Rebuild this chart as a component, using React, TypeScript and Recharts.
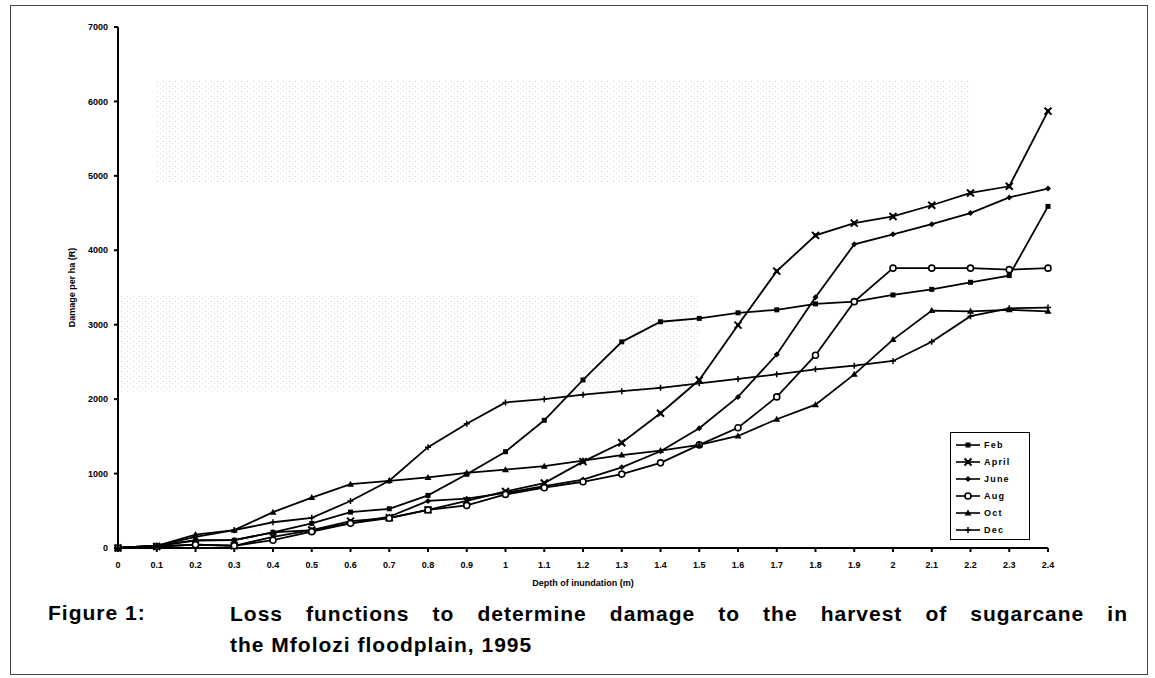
import React from 'react';
import {
  LineChart, Line, XAxis, YAxis, ReferenceArea
} from 'recharts';

const depths = ['0', '0.1', '0.2', '0.3', '0.4', '0.5', '0.6', '0.7', '0.8', '0.9', '1', '1.1', '1.2',
  '1.3', '1.4', '1.5', '1.6', '1.7', '1.8', '1.9', '2', '2.1', '2.2', '2.3', '2.4'];

const feb = [0, 30, 100, 105, 211, 330, 482, 527, 707, 990, 1294, 1716, 2258, 2770, 3040, 3085, 3160, 3200, 3280, 3310, 3400, 3475, 3570, 3660, 4590];
const april = [0, 20, 45, 30, 150, 241, 361, 406, 512, 632, 760, 873, 1160, 1415, 1810, 2257, 2995, 3720, 4200, 4365, 4455, 4605, 4770, 4860, 5870];
const june = [0, 30, 105, 105, 211, 241, 331, 420, 632, 662, 740, 830, 920, 1084, 1300, 1610, 2030, 2600, 3370, 4080, 4215, 4350, 4500, 4710, 4830];
const aug = [0, 20, 45, 30, 105, 220, 331, 400, 512, 572, 720, 810, 890, 993, 1144, 1385, 1615, 2030, 2590, 3310, 3760, 3760, 3760, 3740, 3760];
const oct = [0, 30, 180, 240, 482, 677, 858, 903, 948, 1010, 1053, 1100, 1174, 1249, 1309, 1385, 1505, 1730, 1926, 2333, 2800, 3190, 3180, 3200, 3180];
const dec = [0, 30, 150, 240, 346, 406, 632, 903, 1355, 1670, 1956, 2000, 2060, 2107, 2152, 2212, 2272, 2333, 2400, 2450, 2513, 2770, 3115, 3220, 3230];

const yTicks = [0, 1000, 2000, 3000, 4000, 5000, 6000, 7000];

const data = depths.map((d, i) => ({
  depth: d, Feb: feb[i], April: april[i], June: june[i], Aug: aug[i], Oct: oct[i], Dec: dec[i],
}));

const FONT = '"Liberation Sans", Arial, sans-serif';

// marker shapes
const SquareDot = ({ cx, cy }: any) => <rect x={cx - 2.5} y={cy - 2.5} width={5} height={5} fill="#000" />;
const XDot = ({ cx, cy }: any) => (
  <g>
    <path d={`M${cx - 3.5} ${cy - 3.5}L${cx + 3.5} ${cy + 3.5}M${cx - 3.5} ${cy + 3.5}L${cx + 3.5} ${cy - 3.5}`} stroke="#000" strokeWidth={2} />
    <rect x={cx - 2} y={cy - 2} width={4} height={4} fill="#000" />
  </g>
);
const DiamondDot = ({ cx, cy }: any) => (
  <polygon points={`${cx},${cy - 3} ${cx + 3},${cy} ${cx},${cy + 3} ${cx - 3},${cy}`} fill="#000" />
);
const OpenDot = ({ cx, cy }: any) => <circle cx={cx} cy={cy} r={3} fill="#fff" stroke="#000" strokeWidth={1.6} />;
const TriDot = ({ cx, cy }: any) => (
  <polygon points={`${cx},${cy - 3.5} ${cx + 3.5},${cy + 2.5} ${cx - 3.5},${cy + 2.5}`} fill="#000" />
);
const PlusDot = ({ cx, cy }: any) => (
  <path d={`M${cx - 3} ${cy}L${cx + 3} ${cy}M${cx} ${cy - 3}L${cx} ${cy + 3}`} stroke="#000" strokeWidth={1.5} />
);

const SERIES = [
  { key: 'Feb', Dot: SquareDot },
  { key: 'April', Dot: XDot },
  { key: 'June', Dot: DiamondDot },
  { key: 'Aug', Dot: OpenDot },
  { key: 'Oct', Dot: TriDot },
  { key: 'Dec', Dot: PlusDot },
];

const tickStyle = { fill: '#000', fontSize: 9, fontWeight: 'bold' as const, fontFamily: FONT };

const LegendBox = () => (
  <div style={{
    position: 'absolute', left: 950, top: 432, width: 80, height: 108, boxSizing: 'border-box',
    border: '1.5px solid #000', background: '#fff', padding: '3px 0 0 3px',
  }}>
    {SERIES.map(({ key, Dot }) => (
      <div key={key} style={{ display: 'flex', alignItems: 'center', height: 17 }}>
        <svg width={28} height={10}>
          <line x1={2} y1={5} x2={26} y2={5} stroke="#000" strokeWidth={1.6} />
          <Dot cx={14} cy={5} />
        </svg>
        <span style={{ fontFamily: FONT, fontSize: 9, fontWeight: 'bold', letterSpacing: 1.2, marginLeft: 2 }}>{key}</span>
      </div>
    ))}
  </div>
);

export default function App() {
  return (
    <div style={{ position: 'absolute', left: 0, top: 0, width: 1155, height: 678, background: '#fff', fontFamily: FONT }}>
      <div style={{ position: 'absolute', left: 10, top: 5, width: 1138, height: 670, border: '1px solid #444', boxSizing: 'border-box' }} />
      <div style={{ position: 'absolute', left: 0, top: 0 }}>
        <LineChart width={1155} height={678} data={data} margin={{ top: 27, right: 107, left: 68, bottom: 100 }}>
          <defs>
            <pattern id="speck" width="6" height="5" patternUnits="userSpaceOnUse">
              <rect x="1" y="1" width="1" height="1" fill="#999" />
              <rect x="4" y="3" width="1" height="1" fill="#bbb" />
            </pattern>
          </defs>
          <ReferenceArea x1="0.1" x2="2.2" y1={4900} y2={6300} fill="url(#speck)" fillOpacity={0.45} stroke="none" />
          <ReferenceArea x1="0" x2="1.5" y1={2100} y2={3400} fill="url(#speck)" fillOpacity={0.45} stroke="none" />
          <XAxis
            dataKey="depth"
            height={30}
            interval={0}
            tick={tickStyle}
            tickSize={4}
            tickMargin={10}
            stroke="#000"
            strokeWidth={2}
            label={{ value: 'Depth of inundation (m)', position: 'bottom', offset: 2, style: { ...tickStyle } }}
          />
          <XAxis xAxisId="top" dataKey="depth" orientation="top" height={0} tick={false} tickLine={false} stroke="#000" strokeWidth={1.5} />
          <YAxis
            width={50}
            domain={[0, 7000]}
            ticks={yTicks}
            interval={0}
            tick={tickStyle}
            tickSize={4}
            tickMargin={6}
            stroke="#000"
            strokeWidth={2}
            label={{ value: 'Damage per ha (R)', angle: -90, position: 'insideLeft', offset: 4, style: { ...tickStyle, textAnchor: 'middle' } }}
          />
          <YAxis yAxisId="right" orientation="right" width={0} domain={[0, 7000]} tick={false} tickLine={false} stroke="#000" strokeWidth={1.5} />
          {SERIES.map(({ key, Dot }) => (
            <Line
              key={key}
              dataKey={key}
              type="linear"
              stroke="#000"
              strokeWidth={1.8}
              dot={(p: any) => <Dot key={`${key}-${p.index}`} cx={p.cx} cy={p.cy} />}
              activeDot={false}
              isAnimationActive={false}
            />
          ))}
        </LineChart>
      </div>
      <LegendBox />
      <div style={{ position: 'absolute', left: 48, top: 601, fontSize: 21, fontWeight: 'bold', letterSpacing: 1 }}>Figure 1:</div>
      <div style={{ position: 'absolute', left: 230, top: 598, width: 898, fontSize: 21, fontWeight: 'bold', letterSpacing: 1, lineHeight: '31px' }}>
        <div style={{ textAlign: 'justify', textAlignLast: 'justify' as any }}>Loss functions to determine damage to the harvest of sugarcane in</div>
        <div>the Mfolozi floodplain, 1995</div>
      </div>
    </div>
  );
}
